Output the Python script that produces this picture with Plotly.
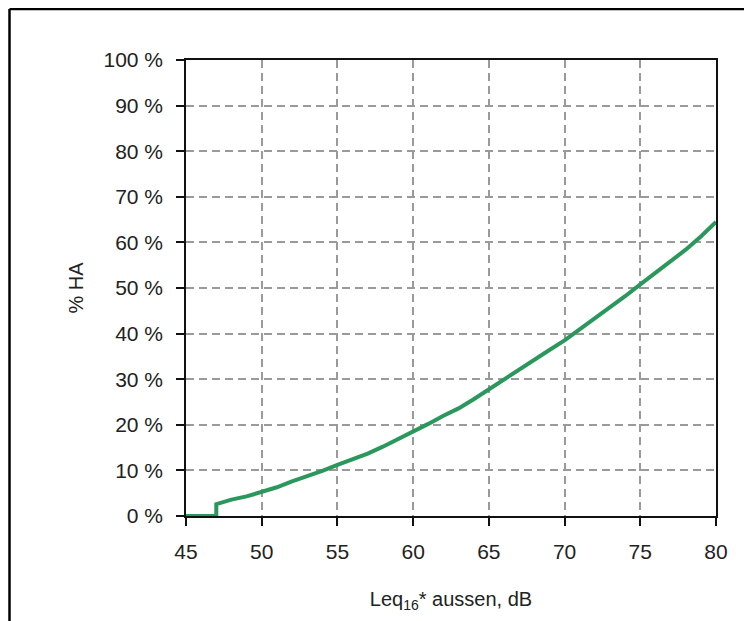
import plotly.graph_objects as go

# Data
leq = [45, 46, 47, 47, 48, 49, 50, 51, 52, 53, 54, 55, 56, 57, 58, 59, 60, 61, 62,
       63, 64, 65, 66, 67, 68, 69, 70, 71, 72, 73, 74, 75, 76, 77, 78, 79, 80]
ha_pct = [0, 0, 0, 2.6, 3.6, 4.3, 5.3, 6.3, 7.6, 8.7, 9.9, 11.2, 12.4, 13.7, 15.2, 16.8,
          18.5, 20.2, 22.0, 23.6, 25.6, 27.8, 29.9, 32.1, 34.2, 36.4, 38.5, 40.9, 43.4,
          45.7, 48.2, 50.8, 53.3, 55.7, 58.4, 61.3, 64.5]
x_ticks = [45, 50, 55, 60, 65, 70, 75, 80]
y_ticks = [0, 10, 20, 30, 40, 50, 60, 70, 80, 90, 100]
y_ticklabels = ["0 %", "10 %", "20 %", "30 %", "40 %", "50 %", "60 %", "70 %",
                "80 %", "90 %", "100 %"]

# page body has an 8px margin, so the figure is shifted by 8px
OFF = 8
W, H = 752 - OFF, 621 - OFF
L, R, T, B = 186 - OFF, 36, 60 - OFF, 105
pw, ph = W - L - R, H - T - B

fig = go.Figure()
fig.add_trace(go.Scatter(
    x=leq, y=ha_pct, mode="lines",
    line=dict(color="rgb(42,152,92)", width=4),
    cliponaxis=False, showlegend=False,
))

tick_font = dict(family="Liberation Sans, Arial, sans-serif", size=21, color="#222")
title_font = dict(family="Liberation Sans, Arial, sans-serif", size=20, color="#222")
grid = dict(showgrid=True, gridcolor="#9a9a9a", gridwidth=1.5, griddash="8px,5px",
            showline=True, linecolor="#111", linewidth=1.5, mirror=True,
            ticks="outside", ticklen=8, tickcolor="#111", tickwidth=1.5,
            zeroline=False, layer="below traces", tickfont=tick_font)

fig.update_xaxes(range=[45, 80], tickvals=x_ticks, ticklabelstandoff=8, **grid,
                 title=dict(text="Leq<sub>16</sub>* aussen, dB", font=title_font, standoff=30))
fig.update_yaxes(range=[0, 100], tickvals=y_ticks, ticktext=y_ticklabels,
                 ticklabelstandoff=9, **grid,
                 title=dict(text="% HA", font=title_font, standoff=15))

# outer frame of the figure (top-left corner sits at the page edge)
fx0 = (1.5 - L) / pw
fy1 = 1 + (T - 1.0) / ph
fig.add_shape(type="line", xref="paper", yref="paper", x0=fx0, x1=fx0, y0=-1, y1=fy1,
              line=dict(color="black", width=2.5))
fig.add_shape(type="line", xref="paper", yref="paper", x0=fx0, x1=2, y0=fy1, y1=fy1,
              line=dict(color="black", width=2.5))

fig.update_layout(width=W, height=H, margin=dict(l=L, r=R, t=T, b=B),
                  paper_bgcolor="white", plot_bgcolor="white",
                  font=tick_font)
fig.write_html("out.html")
